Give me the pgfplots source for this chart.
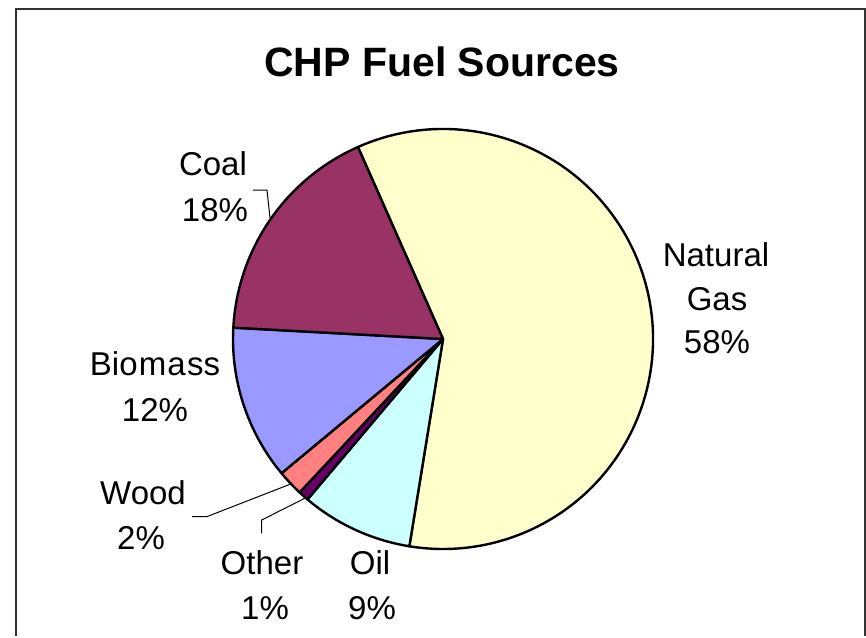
\documentclass[border=0pt]{standalone}
\usepackage{pgfplots}
\pgfplotsset{compat=1.18}
\usepackage{fontspec}
\setmainfont{Liberation Sans}
\definecolor{cNG}{HTML}{FFFFCC}
\definecolor{cOil}{HTML}{CCFFFF}
\definecolor{cOther}{HTML}{660066}
\definecolor{cWood}{HTML}{FF8080}
\definecolor{cBio}{HTML}{9999FF}
\definecolor{cCoal}{HTML}{993366}
% data (percent)
\def\vNG{59.2}
\def\vOil{8.6}
\def\vOther{0.8}
\def\vWood{2.0}
\def\vBio{11.9}
\def\vCoal{17.5}
\pgfmathsetmacro\aA{113.9}
\pgfmathsetmacro\aB{\aA-3.6*\vNG}
\pgfmathsetmacro\aC{\aB-3.6*\vOil}
\pgfmathsetmacro\aD{\aC-3.6*\vOther}
\pgfmathsetmacro\aE{\aD-3.6*\vWood}
\pgfmathsetmacro\aF{\aE-3.6*\vBio}
\pgfmathsetmacro\aG{\aF-3.6*\vCoal}
\def\R{105pt}
\begin{document}
\begin{tikzpicture}
\begin{axis}[x=0.5pt,y=0.5pt,xmin=0,xmax=866,ymin=0,ymax=636,y dir=reverse,
  hide axis,clip=false,scale only axis,anchor=south west,at={(0,0)}]
\path (axis cs:0,0) rectangle (axis cs:866,636);
\draw[line width=1pt,black!80] (axis cs:15.7,636) -- (axis cs:15.7,9) -- (axis cs:864.5,9) -- (axis cs:864.5,636);
\def\C{axis cs:443,339}
\tikzset{sl/.style={draw=black,line width=1.2pt,line join=round}}
\fill[cNG,sl] (\C) -- ([shift={(\aA:\R)}]\C) arc[start angle=\aA,end angle=\aB,radius=\R] -- cycle;
\fill[cOil,sl] (\C) -- ([shift={(\aB:\R)}]\C) arc[start angle=\aB,end angle=\aC,radius=\R] -- cycle;
\fill[cOther,sl] (\C) -- ([shift={(\aC:\R)}]\C) arc[start angle=\aC,end angle=\aD,radius=\R] -- cycle;
\fill[cWood,sl] (\C) -- ([shift={(\aD:\R)}]\C) arc[start angle=\aD,end angle=\aE,radius=\R] -- cycle;
\fill[cBio,sl] (\C) -- ([shift={(\aE:\R)}]\C) arc[start angle=\aE,end angle=\aF,radius=\R] -- cycle;
\fill[cCoal,sl] (\C) -- ([shift={(\aF:\R)}]\C) arc[start angle=\aF,end angle=\aG,radius=\R] -- cycle;
% leader lines
\draw[line width=0.5pt] (axis cs:253,190) -- (axis cs:267,190) -- (axis cs:270,218);
\draw[line width=0.5pt] (axis cs:192,516.7) -- (axis cs:206.7,516.7) -- (axis cs:290,484.3);
\draw[line width=0.5pt] (axis cs:261.7,533.3) -- (axis cs:261.7,520) -- (axis cs:306.7,497.3);
% title
\node[anchor=base,font=\fontsize{20.5}{24}\selectfont\bfseries] at (axis cs:442,76.5) {CHP Fuel Sources};
% labels
\tikzset{lab/.style={anchor=base,inner sep=0pt,font=\fontsize{16.5}{20}\selectfont}}
\node[lab] at (axis cs:716,266) {Natural};
\node[lab] at (axis cs:717,310) {Gas};
\node[lab] at (axis cs:717,353) {58\%};
\node[lab] at (axis cs:213,175) {Coal};
\node[lab] at (axis cs:215,221) {18\%};
\node[lab] at (axis cs:155,375) {Bio\kern0.6pt m\kern0.6pt a\kern0.6pt ss};
\node[lab] at (axis cs:155,421) {12\%};
\node[lab] at (axis cs:143,504) {Wood};
\node[lab] at (axis cs:141,549) {2\%};
\node[lab] at (axis cs:262,574) {Other};
\node[lab] at (axis cs:265,619) {1\%};
\node[lab] at (axis cs:370,574) {Oil};
\node[lab] at (axis cs:372,619) {9\%};
\end{axis}
\end{tikzpicture}
\end{document}
